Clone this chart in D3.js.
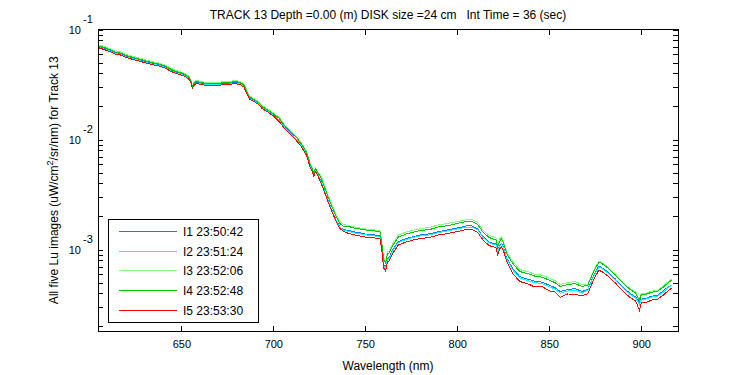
<!DOCTYPE html>
<html>
<head>
<meta charset="utf-8">
<script src="https://cdn.jsdelivr.net/npm/d3@7"></script>
<style>
  body { margin: 0; background: #fff; }
  #lu_viz svg { display: block; font-family: "Liberation Sans", Arial, sans-serif; }
  .axis text { font-size: 11px; fill: #000; }
</style>
</head>
<body>
<div id="lu_viz"></div>
<script>
// Lu spectra for track 13, five images

const wavelength = [
  605,608,611,614,617,620,623,626,629,632,
  635,638,641,644,647,650,652,654,655,656,
  657,658,661,664,667,670,673,676,679,682,
  684,686,687,688,690,692,694,697,700,703,
  706,709,712,715,718,720,721,722,723,724,
  726,728,730,732,734,736,738,741,744,747,
  750,753,756,758,759,760,761,762,763,765,
  768,772,776,780,785,790,795,800,805,808,
  811,814,817,819,821,822,823,824,825,827,
  830,834,838,842,846,850,853,856,860,864,
  868,871,874,877,879,882,886,890,894,897,
  899,900,903,906,909,912,915,917
];

const lu_I1 = [
  0.0697,0.0672,0.0644,0.0612,0.0598,0.0568,0.0550,0.0534,0.0517,0.0501,
  0.0486,0.0476,0.0456,0.0429,0.0406,0.0394,0.0382,0.0362,0.0344,0.0300,
  0.0320,0.0330,0.0323,0.0317,0.0320,0.0317,0.0323,0.0323,0.0330,0.0323,
  0.0306,0.0260,0.0238,0.0234,0.0224,0.0212,0.0195,0.0182,0.0168,0.0152,
  0.0131,0.0116,0.0103,0.00901,0.00746,0.00580,0.00535,0.00481,0.00523,0.00491,
  0.00415,0.00337,0.00274,0.00226,0.00188,0.00162,0.00152,0.00149,0.00145,0.00142,
  0.00138,0.00137,0.00135,0.00133,0.00105,0.000731,0.000686,0.000827,0.000846,0.00100,
  0.00118,0.00126,0.00131,0.00136,0.00139,0.00146,0.00151,0.00157,0.00164,0.00164,
  0.00155,0.00131,0.00118,0.00114,0.00113,0.000959,0.00109,0.00114,0.00107,0.000827,
  0.000679,0.000568,0.000540,0.000517,0.000506,0.000475,0.000452,0.000415,0.000433,0.000442,
  0.000415,0.000438,0.000574,0.000709,0.000678,0.000624,0.000539,0.000457,0.000398,0.000371,
  0.000330,0.000355,0.000363,0.000378,0.000386,0.000420,0.000465,0.000470
];

const lu_I2 = [
  0.0690,0.0665,0.0638,0.0605,0.0592,0.0562,0.0545,0.0529,0.0511,0.0496,
  0.0481,0.0471,0.0452,0.0424,0.0402,0.0390,0.0378,0.0359,0.0341,0.0295,
  0.0316,0.0326,0.0319,0.0313,0.0316,0.0313,0.0319,0.0319,0.0326,0.0319,
  0.0303,0.0257,0.0235,0.0231,0.0221,0.0210,0.0193,0.0180,0.0166,0.0150,
  0.0130,0.0114,0.0102,0.00891,0.00738,0.00574,0.00529,0.00476,0.00518,0.00486,
  0.00410,0.00334,0.00271,0.00224,0.00186,0.00160,0.00150,0.00146,0.00142,0.00139,
  0.00136,0.00135,0.00132,0.00130,0.00103,0.000716,0.000672,0.000811,0.000828,0.000979,
  0.00116,0.00123,0.00129,0.00133,0.00136,0.00143,0.00148,0.00154,0.00160,0.00160,
  0.00152,0.00129,0.00116,0.00112,0.00111,0.000939,0.00106,0.00112,0.00104,0.000811,
  0.000658,0.000551,0.000525,0.000501,0.000491,0.000461,0.000438,0.000402,0.000420,0.000428,
  0.000402,0.000429,0.000562,0.000694,0.000665,0.000611,0.000528,0.000447,0.000390,0.000363,
  0.000315,0.000348,0.000356,0.000371,0.000378,0.000411,0.000456,0.000481
];

const lu_I3 = [
  0.0727,0.0701,0.0672,0.0638,0.0624,0.0592,0.0574,0.0557,0.0539,0.0523,
  0.0507,0.0496,0.0476,0.0447,0.0424,0.0411,0.0398,0.0378,0.0359,0.0311,
  0.0333,0.0344,0.0337,0.0330,0.0333,0.0330,0.0337,0.0337,0.0344,0.0337,
  0.0320,0.0271,0.0248,0.0244,0.0233,0.0222,0.0203,0.0190,0.0175,0.0160,
  0.0138,0.0122,0.0109,0.00949,0.00786,0.00611,0.00563,0.00507,0.00551,0.00517,
  0.00466,0.00379,0.00307,0.00254,0.00211,0.00182,0.00170,0.00165,0.00161,0.00157,
  0.00154,0.00152,0.00150,0.00148,0.00117,0.000837,0.000787,0.000948,0.000969,0.00115,
  0.00136,0.00144,0.00150,0.00155,0.00159,0.00168,0.00173,0.00180,0.00187,0.00187,
  0.00178,0.00150,0.00136,0.00131,0.00129,0.00110,0.00125,0.00131,0.00122,0.000948,
  0.000787,0.000658,0.000633,0.000599,0.000586,0.000550,0.000523,0.000481,0.000502,0.000512,
  0.000481,0.000486,0.000637,0.000787,0.000753,0.000693,0.000599,0.000507,0.000442,0.000412,
  0.000352,0.000395,0.000403,0.000420,0.000428,0.000466,0.000517,0.000546
];

const lu_I4 = [
  0.0712,0.0686,0.0658,0.0625,0.0611,0.0580,0.0562,0.0545,0.0528,0.0512,
  0.0496,0.0486,0.0466,0.0438,0.0415,0.0403,0.0390,0.0370,0.0351,0.0305,
  0.0326,0.0337,0.0330,0.0323,0.0326,0.0323,0.0330,0.0330,0.0337,0.0330,
  0.0313,0.0265,0.0243,0.0239,0.0228,0.0217,0.0199,0.0186,0.0171,0.0157,
  0.0135,0.0119,0.0107,0.00930,0.00770,0.00599,0.00552,0.00496,0.00540,0.00507,
  0.00446,0.00363,0.00294,0.00243,0.00202,0.00174,0.00163,0.00162,0.00157,0.00154,
  0.00151,0.00149,0.00147,0.00145,0.00115,0.000803,0.000754,0.000909,0.000929,0.00110,
  0.00130,0.00138,0.00144,0.00149,0.00152,0.00161,0.00165,0.00173,0.00180,0.00180,
  0.00170,0.00144,0.00130,0.00125,0.00124,0.00105,0.00119,0.00125,0.00117,0.000909,
  0.000755,0.000631,0.000607,0.000575,0.000562,0.000528,0.000502,0.000461,0.000481,0.000491,
  0.000461,0.000476,0.000624,0.000771,0.000738,0.000678,0.000586,0.000496,0.000433,0.000403,
  0.000345,0.000387,0.000395,0.000411,0.000420,0.000456,0.000506,0.000534
];

const lu_I5 = [
  0.0683,0.0658,0.0631,0.0599,0.0586,0.0556,0.0539,0.0523,0.0506,0.0491,
  0.0476,0.0466,0.0447,0.0420,0.0398,0.0386,0.0374,0.0355,0.0337,0.0292,
  0.0313,0.0323,0.0316,0.0310,0.0313,0.0310,0.0316,0.0316,0.0323,0.0316,
  0.0300,0.0254,0.0233,0.0229,0.0219,0.0208,0.0191,0.0178,0.0164,0.0147,
  0.0127,0.0112,0.0100,0.00873,0.00723,0.00562,0.00518,0.00466,0.00507,0.00476,
  0.00402,0.00327,0.00265,0.00219,0.00182,0.00157,0.00147,0.00140,0.00136,0.00133,
  0.00130,0.00129,0.00127,0.00125,0.000990,0.000679,0.000638,0.000769,0.000786,0.000929,
  0.00110,0.00117,0.00122,0.00126,0.00129,0.00136,0.00140,0.00146,0.00152,0.00152,
  0.00144,0.00122,0.00110,0.00106,0.00105,0.000891,0.00101,0.00106,0.000990,0.000769,
  0.000612,0.000512,0.000492,0.000458,0.000462,0.000421,0.000412,0.000368,0.000395,0.000392,
  0.000380,0.000398,0.000528,0.000652,0.000624,0.000574,0.000496,0.000420,0.000366,0.000341,
  0.000282,0.000327,0.000334,0.000348,0.000355,0.000386,0.000428,0.000452
];

const legendLabels = ["I1 23:50:42", "I2 23:51:24", "I3 23:52:06", "I4 23:52:48", "I5 23:53:30"];
const xTicks = [650, 700, 750, 800, 850, 900];
const yMajorTicks = [1e-3, 1e-2, 1e-1];
const yTickExponents = ["-3", "-2", "-1"];

const titleText = "TRACK 13 Depth =0.00 (m) DISK size =24 cm   Int Time = 36 (sec)";

// Colours for the five images
const lineColors = ["#0080ff", "#00ffff", "#80ff80", "#00c800", "#ff0000"];

// Plot box
const margin = { top: 29.5, right: 72, bottom: 44, left: 98 },
      width = 750 - margin.left - margin.right,
      height = 375 - margin.top - margin.bottom;

const svg = d3.select("#lu_viz")
    .append("svg")
        .attr("width", 750)
        .attr("height", 375);

const g = svg.append("g")
    .attr("transform", `translate(${margin.left},${margin.top})`);

const x = d3.scaleLinear()
    .domain([604.7, 920])
    .range([0, width]);

const y = d3.scaleLog()
    .domain([1.82e-4, 0.1])
    .range([height, 0]);

// minor log ticks for each decade inside the domain
const yMinorTicks = [];
[1e-4, 1e-3, 1e-2].forEach(d => {
    for (let k = 2; k <= 9; k++) {
        const v = k * d;
        if (v >= y.domain()[0] && v <= y.domain()[1]) yMinorTicks.push(v);
    }
});
const yAllTicks = yMinorTicks.concat(yMajorTicks);

const tickLen = 5;

// bottom axis, ticks pointing inward
g.append("g")
    .attr("class", "Xaxis axis")
    .attr("transform", `translate(0,${height})`)
    .call(d3.axisBottom(x).tickValues(xTicks).tickSize(-tickLen).tickSizeOuter(0).tickPadding(9))
    .call(a => a.select(".domain").remove());

// top axis, ticks only
g.append("g")
    .attr("class", "axis")
    .call(d3.axisTop(x).tickValues(xTicks).tickSize(-tickLen).tickSizeOuter(0).tickFormat(""))
    .call(a => a.select(".domain").remove());

// left axis ticks
g.append("g")
    .attr("class", "Yaxis axis")
    .call(d3.axisLeft(y).tickValues(yAllTicks).tickSize(-tickLen).tickSizeOuter(0).tickFormat(""))
    .call(a => a.select(".domain").remove());

// right axis ticks
g.append("g")
    .attr("class", "axis")
    .attr("transform", `translate(${width},0)`)
    .call(d3.axisRight(y).tickValues(yAllTicks).tickSize(-tickLen).tickSizeOuter(0).tickFormat(""))
    .call(a => a.select(".domain").remove());

g.selectAll(".axis line")
    .attr("stroke", "#000")
    .attr("shape-rendering", "crispEdges");

// y tick labels as 10 with superscript exponent
const yLab = g.append("g").attr("class", "axis");
yMajorTicks.forEach((v, i) => {
    yLab.append("text")
        .attr("x", -17)
        .attr("y", y(v) + 4)
        .attr("text-anchor", "end")
        .text("10");
    yLab.append("text")
        .attr("x", -15)
        .attr("y", y(v) - 7)
        .attr("text-anchor", "start")
        .text(yTickExponents[i]);
});

// clip the spectra to the box
g.append("clipPath").attr("id", "plotClip")
  .append("rect").attr("width", width).attr("height", height);

const series = [lu_I1, lu_I2, lu_I3, lu_I4, lu_I5];

const line = d3.line()
    .x((d, i) => x(wavelength[i]))
    .y(d => y(d));

g.append("g")
    .attr("clip-path", "url(#plotClip)")
    .selectAll("path")
    .data(series)
    .join("path")
        .attr("d", d => line(d))
        .attr("fill", "none")
        .attr("stroke", (d, i) => lineColors[i])
        .attr("stroke-width", 1)
        .attr("shape-rendering", "crispEdges");

// box frame
g.append("rect")
    .attr("width", width)
    .attr("height", height)
    .attr("fill", "none")
    .attr("stroke", "#000")
    .attr("shape-rendering", "crispEdges");

// legend
const legend = svg.append("g")
    .attr("transform", "translate(108,219)");

legend.append("rect")
    .attr("width", 150)
    .attr("height", 103)
    .attr("fill", "#fff")
    .attr("stroke", "#000")
    .attr("shape-rendering", "crispEdges");

const legendRow = legend.selectAll("g.row")
    .data(legendLabels)
    .join("g")
        .attr("class", "row")
        .attr("transform", (d, i) => `translate(0,${Math.round(12 + i * 19.7) + 0.5})`);

legendRow.append("line")
    .attr("x1", 11).attr("x2", 69)
    .attr("stroke", (d, i) => lineColors[i])
    .attr("stroke-width", 1);

legendRow.append("text")
    .attr("x", 75)
    .attr("y", 4)
    .style("font-size", "12px")
    .text(d => d);

// title and axis labels
svg.append("text")
    .attr("x", margin.left + width / 2)
    .attr("y", 19)
    .attr("text-anchor", "middle")
    .style("font-size", "12px")
    .style("white-space", "pre")
    .text(titleText);

svg.append("text")
    .attr("x", margin.left + width / 2)
    .attr("y", 370)
    .attr("text-anchor", "middle")
    .style("font-size", "12px")
    .text("Wavelength (nm)");

const yTitle = svg.append("text")
    .attr("transform", `translate(58,${margin.top + height / 2}) rotate(-90)`)
    .attr("text-anchor", "middle")
    .style("font-size", "12px");
yTitle.append("tspan").text("All five Lu images (uW/cm");
yTitle.append("tspan").attr("dy", -5).style("font-size", "9px").text("2");
yTitle.append("tspan").attr("dy", 5).text("/sr/nm) for Track 13");
</script>
</body>
</html>
